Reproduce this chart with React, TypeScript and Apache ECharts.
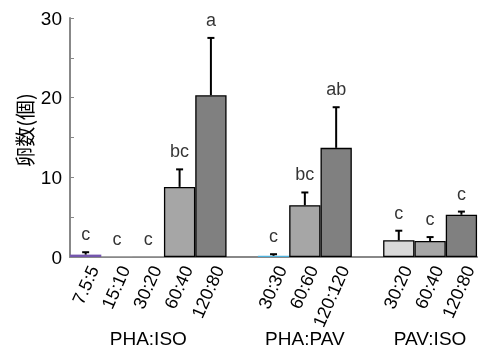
import React, { useEffect, useRef } from "react";
import * as echarts from "echarts";

const categories = ["7.5:5", "15:10", "30:20", "60:40", "120:80", "", "30:30", "60:60", "120:120", "", "30:20", "60:40", "120:80"];
const means = [0.3, 0.05, 0.05, 8.8, 20.3, null, 0.15, 6.5, 13.7, null, 2.1, 2.0, 5.3];
const errors = [0.3, null, null, 2.2, 7.2, null, 0.2, 1.6, 5.1, null, 1.2, 0.5, 0.4];
const letters = ["c", "c", "c", "bc", "a", "", "c", "bc", "ab", "", "c", "c", "c"];
const groups = ["PHA:ISO", "PHA:PAV", "PAV:ISO"];
const groupSpans = [[0, 4], [6, 8], [10, 12]];
const yTicks = [0, 10, 20, 30];

const barColors = ["#7456ad", "#d0d0d0", "#c0c0c0", "#a6a6a6", "#808080", "#fff", "#4fb3de", "#a6a6a6", "#808080", "#fff", "#d9d9d9", "#a6a6a6", "#808080"];
const bordered = [false, false, false, true, true, false, false, true, true, false, true, true, true];

const FONT = "'Liberation Sans', Arial, sans-serif";

export default function App() {
  const ref = useRef<HTMLDivElement>(null);
  useEffect(() => {
    const chart = echarts.init(ref.current!, null, { renderer: "svg" });
    const barData = means.map((m, i) =>
      m === null
        ? null
        : {
            value: m,
            itemStyle: {
              color: barColors[i],
              borderColor: bordered[i] ? "#000" : barColors[i],
              borderWidth: bordered[i] ? 1.3 : 0,
            },
          }
    );
    const errData: any[] = [];
    means.forEach((m, i) => {
      if (m !== null && errors[i] !== null) errData.push([i, m, m + (errors[i] as number)]);
    });
    const letterData: any[] = [];
    means.forEach((m, i) => {
      if (m !== null && letters[i]) letterData.push([i, m + (errors[i] ?? 0), letters[i]]);
    });
    chart.setOption({
      animation: false,
      grid: { left: 70, right: 0, top: 18, bottom: 92, containLabel: false },
      xAxis: {
        type: "category",
        data: categories,
        axisLine: { lineStyle: { color: "#888", width: 2 } },
        axisTick: { show: false },
        axisLabel: {
          rotate: 66,
          interval: 0,
          fontSize: 18,
          color: "#000",
          fontFamily: FONT,
          margin: 6,
          verticalAlign: "top",
        },
      },
      yAxis: {
        type: "value",
        min: 0,
        max: 30,
        interval: 5,
        splitLine: { show: false },
        axisLine: { show: true, lineStyle: { color: "#888", width: 2 } },
        axisTick: { show: true, inside: true, length: 4, lineStyle: { color: "#888", width: 1 } },
        axisLabel: {
          fontSize: 19,
          color: "#000",
          fontFamily: FONT,
          margin: 8,
          formatter: (v: number) => (yTicks.includes(v) ? String(v) : ""),
        },
      },
      series: [
        {
          type: "bar",
          data: barData,
          barCategoryGap: 0,
          barGap: 0,
        },
        {
          type: "custom",
          data: errData,
          z: 5,
          renderItem: (params: any, api: any) => {
            const i = api.value(0);
            const p0 = api.coord([i, api.value(1)]);
            const p1 = api.coord([i, api.value(2)]);
            return {
              type: "group",
              children: [
                { type: "line", shape: { x1: p0[0], y1: p0[1], x2: p1[0], y2: p1[1] }, style: { stroke: "#000", lineWidth: 2 } },
                { type: "line", shape: { x1: p1[0] - 3.5, y1: p1[1], x2: p1[0] + 3.5, y2: p1[1] }, style: { stroke: "#000", lineWidth: 2 } },
              ],
            };
          },
        },
        {
          type: "scatter",
          data: letterData,
          symbolSize: 0,
          z: 6,
          label: {
            show: true,
            position: "top",
            distance: 9,
            fontSize: 18,
            color: "#000",
            fontFamily: FONT,
            formatter: (p: any) => p.value[2],
          },
        },
      ],
    });
    const graphics: any[] = groups.map((g, k) => {
      const a = chart.convertToPixel({ xAxisIndex: 0 }, groupSpans[k][0]) as number;
      const b = chart.convertToPixel({ xAxisIndex: 0 }, groupSpans[k][1]) as number;
      return {
        type: "text",
        x: (a + b) / 2,
        y: 338,
        style: { text: g, fontSize: 19, fill: "#000", fontFamily: FONT, align: "center", verticalAlign: "middle" },
      };
    });
    graphics.push({
      type: "text",
      x: 24,
      y: 130,
      rotation: Math.PI / 2,
      style: {
        text: "卵数(個)",
        fontSize: 20,
        fill: "#000",
        fontFamily: "'Noto Sans CJK JP', sans-serif",
        align: "center",
        verticalAlign: "middle",
      },
    });
    chart.setOption({ graphic: graphics });
    return () => chart.dispose();
  }, []);
  return <div ref={ref} style={{ position: "fixed", left: 0, top: 0, width: 479, height: 349 }} />;
}
